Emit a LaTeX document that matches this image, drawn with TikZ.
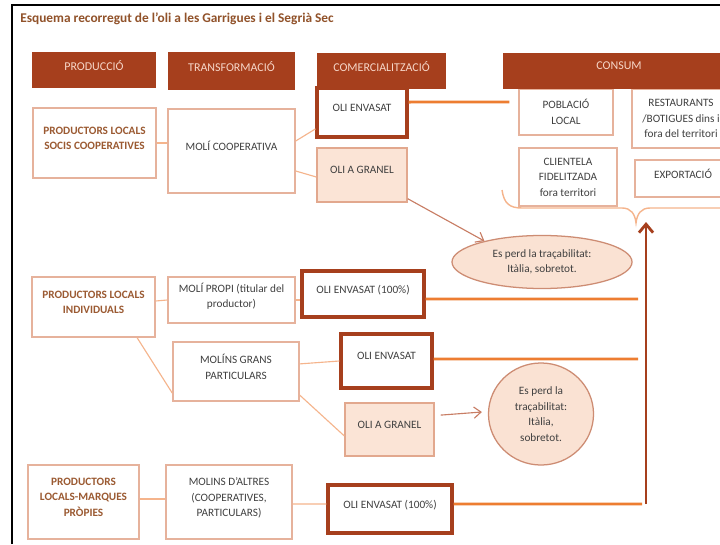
\documentclass[tikz,border=0pt]{standalone}
\usepackage{fontspec}
\setmainfont{Carlito}
\usetikzlibrary{shapes.geometric,arrows.meta}

\definecolor{rust}{RGB}{166,63,29}
\definecolor{headtext}{RGB}{246,214,200}
\definecolor{titlebrown}{RGB}{145,82,42}
\definecolor{prodbrown}{RGB}{155,90,50}
\definecolor{txtgray}{RGB}{64,64,64}
\definecolor{boxline}{RGB}{230,178,156}
\definecolor{granelfill}{RGB}{251,228,214}
\definecolor{granelline}{RGB}{226,168,142}
\definecolor{ellfill}{RGB}{250,226,211}
\definecolor{ellline}{RGB}{205,140,115}
\definecolor{oilorange}{RGB}{237,125,49}
\definecolor{linkcol}{RGB}{245,180,140}
\definecolor{losscol}{RGB}{200,125,100}

\begin{document}
\begin{tikzpicture}[x=0.025cm,y=-0.025cm,
  font=\fontsize{8}{11}\selectfont,
  every node/.style={align=center,text=txtgray},
  lift/.style={execute at end node={\rule[-7pt]{0pt}{0pt}}},
  headbar/.style={fill=rust,text=headtext,inner sep=2pt,font=\fontsize{8.5}{11}\selectfont,lift},
  stagebox/.style={draw=boxline,line width=1pt,fill=white,inner sep=2pt},
  prodbox/.style={stagebox,lift,text=prodbrown,font=\fontsize{8}{11}\selectfont\bfseries},
  millbox/.style={stagebox,lift},
  consumbox/.style={stagebox},
  sellbox/.style={draw=rust,line width=2.2pt,fill=white,inner sep=2pt,lift},
  bulkbox/.style={draw=granelline,line width=1pt,fill=granelfill,inner sep=2pt,lift},
  lossnote/.style={ellipse,draw=ellline,line width=0.9pt,fill=ellfill,inner sep=0pt},
  link/.style={draw=linkcol,line width=0.8pt},
  supply/.style={draw=oilorange,line width=2pt},
  loss/.style={draw=losscol,line width=0.8pt,-{Straight Barb[length=5pt,width=8pt]}},
  toconsum/.style={draw=rust,line width=2pt,-{Straight Barb[length=6pt,width=10pt]}},
  brace/.style={draw=linkcol,line width=1pt}]
\clip (0,0) rectangle (720,544);
\useasboundingbox (0,0) rectangle (720,544);
\fill[white] (0,0) rectangle (720,544);

\node[anchor=west,inner sep=0pt,text=titlebrown,font=\fontsize{9.5}{11}\selectfont\bfseries] (title) at (20,19) {Esquema recorregut de l'oli a les Garrigues i el Segrià Sec};
\draw [line width=1.5pt] (12,544) -- (12,5) -- (720,5);

\draw [brace] (502,190) .. controls (504,204) and (510,208) .. (522,208) -- (622,208) .. controls (631,208) and (635,214) .. (636,223) .. controls (637,214) and (641,208) .. (650,208) -- (750,208) .. controls (762,208) and (768,204) .. (770,190);

\node[prodbox,minimum width=3.075cm,minimum height=1.75cm] (socis) at (94.5,143) {PRODUCTORS LOCALS\\SOCIS COOPERATIVES};
\node[millbox,minimum width=3.175cm,minimum height=2.1cm] (molicoop) at (231.5,151) {MOLÍ COOPERATIVA};
\node[sellbox,minimum width=2.25cm,minimum height=1.225cm] (envasat1) at (362,112.5) {OLI ENVASAT};
\node[bulkbox,minimum width=2.25cm,minimum height=1.35cm] (granel1) at (362,175) {OLI A GRANEL};
\node[consumbox,minimum width=2.35cm,minimum height=1.15cm] (poblacio) at (566,112) {POBLACIÓ\\LOCAL};
\node[consumbox,minimum width=2.45cm,minimum height=1.475cm] (restaurants) at (681,118.5) {RESTAURANTS\\/BOTIGUES dins i\\fora del territori};
\node[consumbox,minimum width=2.45cm,minimum height=1.45cm] (clientela) at (568,177) {CLIENTELA\\FIDELITZADA\\fora territori};
\node[consumbox,lift,minimum width=2.4cm,minimum height=0.925cm] (exportacio) at (683,178.5) {EXPORTACIÓ};
\node[lossnote,minimum width=4.5cm,minimum height=1.325cm] (perd1) at (542,262) {Es perd la traçabilitat:\\Itàlia, sobretot.};

\node[prodbox,minimum width=3.075cm,minimum height=1.5cm] (individuals) at (93.5,307) {PRODUCTORS LOCALS\\INDIVIDUALS};
\node[millbox,minimum width=3.175cm,minimum height=1.15cm] (molipropi) at (231.5,300) {MOLÍ PROPI (titular del\\productor)};
\node[sellbox,minimum width=3.05cm,minimum height=1.15cm] (envasat100a) at (363,294) {OLI ENVASAT (100\%)};
\node[millbox,minimum width=3.15cm,minimum height=1.475cm] (molinsgrans) at (236,371.5) {MOLÍNS GRANS\\PARTICULARS};
\node[sellbox,minimum width=2.275cm,minimum height=1.35cm] (envasat2) at (386.5,361) {OLI ENVASAT};
\node[bulkbox,minimum width=2.225cm,minimum height=1.325cm] (granel2) at (389.5,429.5) {OLI A GRANEL};
\node[lossnote,minimum width=2.625cm,minimum height=2.55cm] (perd2) at (541,414) {Es perd la\\traçabilitat:\\Itàlia,\\sobretot.};

\node[prodbox,minimum width=2.775cm,minimum height=1.85cm] (marques) at (83.5,502) {PRODUCTORS\\LOCALS-MARQUES\\PRÒPIES};
\node[millbox,minimum width=3.15cm,minimum height=1.85cm] (molinsaltres) at (229,502) {MOLINS D'ALTRES\\(COOPERATIVES,\\PARTICULARS)};
\node[sellbox,minimum width=3.1cm,minimum height=1.2cm] (envasat100b) at (390,509) {OLI ENVASAT (100\%)};

\node[headbar,minimum width=3.1cm,minimum height=0.9cm] (hprod) at (94,70) {PRODUCCIÓ};
\node[headbar,minimum width=3.175cm,minimum height=0.95cm] (htrans) at (231.5,71) {TRANSFORMACIÓ};
\node[headbar,minimum width=3.225cm,minimum height=0.9cm] (hcom) at (381.5,71) {COMERCIALITZACIÓ};
\node[headbar,minimum width=5.8cm,minimum height=0.9cm] (hcons) at (619,71) {CONSUM};

\coordinate (endA) at (638,299);
\coordinate (endB) at (638,359);
\coordinate (foot) at (646,504);
\coordinate (tip) at (646,222);

\draw [link] (socis.east) -- (socis.east -| molicoop.west);
\draw [link] ([yshift=0.25cm]molicoop.east) -- ([yshift=-0.41cm]envasat1.west);
\draw [link] ([yshift=-0.5cm]molicoop.east) -- ([yshift=-0.05cm]granel1.west);
\draw [loss] ([yshift=0.1cm]granel1.south east) -- (perd1.160);
\draw [supply,shorten >=0.225cm] ([yshift=0.26cm]envasat1.east) -- ([yshift=0.25cm]poblacio.west);

\draw [link] ([yshift=0.15cm]individuals.east) -- (molipropi.west);
\draw [link] ([xshift=1.09cm]individuals.south) -- ([yshift=-0.54cm]molinsgrans.west);
\draw [link] (molipropi.east) -- (molipropi.east -| envasat100a.west);
\draw [link] ([yshift=0.19cm]molinsgrans.east) -- (envasat2.west);
\draw [link] ([yshift=-0.59cm]molinsgrans.east) -- ([yshift=-0.16cm]granel2.west);
\draw [loss] ([xshift=0.15cm,yshift=0.36cm]granel2.east) -- ([xshift=-0.15cm,yshift=0.05cm]perd2.west);
\draw [supply] ([yshift=-0.125cm]envasat100a.east) -- (endA);
\draw [supply] ([yshift=0.05cm]envasat2.east) -- (endB);

\draw [link] ([yshift=0.075cm]marques.east) -- ([yshift=0.075cm]molinsaltres.west);
\draw [link] ([yshift=-0.05cm]molinsaltres.east) -- ([yshift=0.125cm]envasat100b.west);
\draw [supply] ([yshift=0.125cm]envasat100b.east) -- ([xshift=-0.1cm]foot);
\draw [toconsum] (foot) -- (tip);
\end{tikzpicture}
\end{document}
